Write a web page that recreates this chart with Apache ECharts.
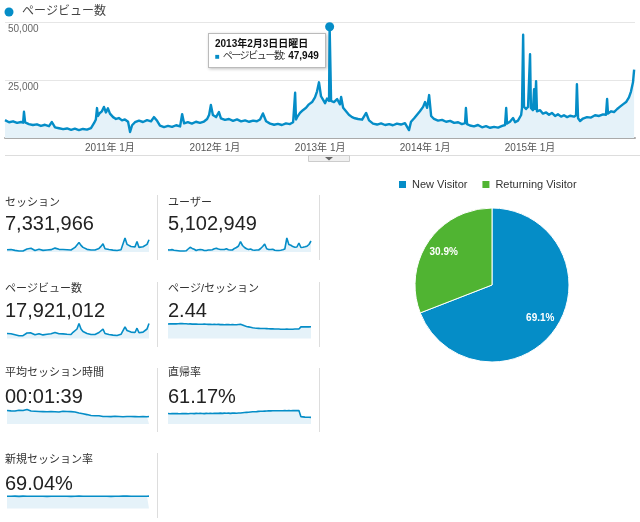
<!DOCTYPE html>
<html><head><meta charset="utf-8">
<script src="https://cdn.jsdelivr.net/npm/echarts@6/dist/echarts.min.js"></script>
<style>html,body{margin:0;padding:0;background:#fff}#c{width:640px;height:522px}</style>
</head><body><div id="c"></div><script>
// ---------- DATA ----------
const headerTitle = 'ページビュー数';
const tickLabels = ['2011年 1月', '2012年 1月', '2013年 1月', '2014年 1月', '2015年 1月'];
const axisRange = ['2010-01-01', '2016-01-01'];
const yTicks = [0, 25000, 50000];

const pvDates = [
'2010-01-01','2010-01-15','2010-01-29','2010-02-12','2010-02-26','2010-03-05','2010-03-08','2010-03-12','2010-03-25','2010-04-08',
'2010-04-22','2010-05-06','2010-05-20','2010-06-03','2010-06-13','2010-06-24','2010-07-08','2010-07-22','2010-08-05','2010-08-19',
'2010-09-01','2010-09-15','2010-09-29','2010-10-13','2010-10-27','2010-11-07','2010-11-13','2010-11-17','2010-11-20','2010-11-27',
'2010-12-04','2010-12-11','2010-12-18','2010-12-25','2011-01-01','2011-01-12','2011-01-22','2011-02-01','2011-02-12','2011-02-22',
'2011-03-05','2011-03-12','2011-03-19','2011-03-29','2011-04-12','2011-04-26','2011-05-10','2011-05-24','2011-06-03','2011-06-14',
'2011-06-24','2011-07-08','2011-07-22','2011-08-05','2011-08-19','2011-09-02','2011-09-09','2011-09-16','2011-09-29','2011-10-13',
'2011-10-27','2011-11-10','2011-11-24','2011-12-05','2011-12-12','2011-12-18','2011-12-25','2012-01-05','2012-01-15','2012-01-22',
'2012-02-05','2012-02-19','2012-03-04','2012-03-18','2012-04-01','2012-04-15','2012-04-29','2012-05-13','2012-05-26','2012-06-06',
'2012-06-16','2012-06-27','2012-07-11','2012-07-25','2012-08-07','2012-08-21','2012-09-04','2012-09-18','2012-09-29','2012-10-06',
'2012-10-09','2012-10-13','2012-10-23','2012-11-02','2012-11-13','2012-11-23','2012-12-04','2012-12-14','2012-12-21','2012-12-28',
'2013-01-04','2013-01-11','2013-01-18','2013-01-25','2013-02-01','2013-02-03','2013-02-08','2013-02-18','2013-03-01','2013-03-11',
'2013-03-15','2013-03-22','2013-04-01','2013-04-11','2013-04-22','2013-05-02','2013-05-13','2013-05-27','2013-06-10','2013-06-20',
'2013-07-04','2013-07-18','2013-08-01','2013-08-15','2013-08-29','2013-09-11','2013-09-25','2013-10-09','2013-10-23','2013-11-06',
'2013-11-13','2013-11-24','2013-12-04','2013-12-14','2013-12-25','2014-01-01','2014-01-08','2014-01-15','2014-01-22','2014-02-01',
'2014-02-15','2014-03-01','2014-03-15','2014-03-29','2014-04-12','2014-04-26','2014-05-09','2014-05-20','2014-05-23','2014-05-27',
'2014-06-06','2014-06-20','2014-07-04','2014-07-18','2014-08-01','2014-08-15','2014-08-29','2014-09-12','2014-09-26','2014-10-06',
'2014-10-10','2014-10-13','2014-10-23','2014-11-03','2014-11-10','2014-11-20','2014-12-01','2014-12-04','2014-12-08','2014-12-11',
'2014-12-18','2014-12-25','2015-01-01','2015-01-04','2015-01-11','2015-01-15','2015-01-18','2015-01-22','2015-01-25','2015-02-05',
'2015-02-15','2015-02-26','2015-03-08','2015-03-18','2015-03-29','2015-04-08','2015-04-19','2015-04-29','2015-05-10','2015-05-20',
'2015-06-03','2015-06-10','2015-06-13','2015-06-17','2015-06-24','2015-07-04','2015-07-18','2015-08-01','2015-08-15','2015-08-29',
'2015-09-12','2015-09-22','2015-09-26','2015-09-29','2015-10-10','2015-10-20','2015-10-31','2015-11-10','2015-11-20','2015-12-01',
'2015-12-11','2015-12-18','2015-12-25','2015-12-29'];
const pvValues = [
7700,6800,7200,6500,6900,6600,11300,6700,6000,5600,
5900,5200,5700,5100,6900,4600,4200,3800,4100,3500,
4000,3400,3900,3600,4300,6500,8000,12900,9500,10800,
11500,13400,11000,12800,10500,9000,8200,8600,7600,8000,
7000,2600,5500,6800,7500,6900,7700,7200,9000,7400,
5300,4700,5200,4800,5500,5000,10300,6300,6800,6200,
7000,6500,7100,8200,10000,14200,9900,9000,11200,8500,
7800,8200,7400,8000,7200,7600,7000,7500,7200,8000,
10600,7200,6200,5700,6100,5600,6300,6000,6800,19500,
8000,9000,10800,12000,13000,14500,15500,17500,20000,24000,
18000,16500,15000,17000,16000,47949,16000,15500,16800,14500,
17700,13000,11500,10000,9000,8500,8200,7900,10800,7600,
6200,5800,6300,5600,6000,5500,6200,5800,6400,3400,
7000,8500,10000,11500,13400,15500,13000,18500,9500,8200,
7500,7800,7000,7400,6500,6800,6000,6400,12900,6000,
5400,5000,5600,4600,5100,4400,4800,4500,5200,5600,
12900,6200,7000,8600,6800,7500,9900,13000,44500,13500,
12500,13400,36100,13000,12000,21000,12500,24500,11500,12000,
10500,11000,10000,10800,9500,10200,9200,9800,9000,9600,
9200,9800,23200,8500,7300,8400,9000,8800,9800,9500,
10200,10000,16800,10500,11500,11200,12500,13500,14500,15500,
17500,20000,24000,29500];
const tooltipDate = '2013-02-03';

const metricNames = ['セッション', 'ユーザー', 'ページビュー数', 'ページ/セッション', '平均セッション時間', '直帰率', '新規セッション率'];
const metricValues = ['7,331,966', '5,102,949', '17,921,012', '2.44', '00:01:39', '61.17%', '69.04%'];

// monthly sparkline categories 2010-01 .. 2015-12
const sparkMonths = [];
for (let y = 2010; y <= 2015; y++) for (let m = 1; m <= 12; m++) sparkMonths.push(y + '-' + (m < 10 ? '0' + m : m));

const sparkSessions = [
4400,4000,4800,3600,3200,2600,2000,1800,2000,2400,6000,9400,
7200,5600,3000,4600,5200,4400,3200,2800,4000,4000,4600,6400,
7600,5800,5200,5000,4800,6400,4400,3800,4000,7200,9000,12000,
18600,13000,9000,6400,5200,6000,4000,3600,3800,4000,7000,11000,
16000,6400,5200,4800,5600,3600,3000,2800,3400,4400,6000,27400,
15000,13600,10800,9600,10000,20600,9000,9600,10400,11600,15000,24000];
const sparkUsers = [
3000,2800,3300,2500,2200,1800,1400,1300,1400,1700,4200,6600,
5000,3900,2100,3200,3600,3100,2200,2000,2800,2800,3200,4500,
5300,4100,3600,3500,3400,4500,3100,2700,2800,5000,6300,8400,
14400,9100,6300,4500,3600,4200,2800,2500,2700,2800,4900,7700,
11200,4500,3600,3400,3900,2500,2100,2000,2400,3100,4200,19600,
10500,9500,7600,6700,7000,12600,6300,6700,7300,8100,10500,15400];
const sparkPageviews = [
8000,7360,7680,6720,6080,5120,4480,4160,4480,5120,8800,10560,
8960,8000,6080,7360,7680,6720,5760,5440,6720,7040,7680,9920,
9600,8000,7680,7360,7360,8960,6720,6080,6400,9920,11840,15200,
24000,15200,11200,8960,8000,8640,6400,6080,6400,6720,9600,12160,
14880,8000,7040,6400,7040,5440,5120,4800,5440,6720,8320,18560,
12800,11840,10240,9600,9600,16480,9280,9600,10240,11520,15200,24000];
const sparkPagesPerSession = [
2.86,2.88,2.90,2.88,2.88,2.92,2.94,2.96,2.92,2.90,2.86,2.88,
2.84,2.84,2.86,2.82,2.80,2.82,2.84,2.80,2.78,2.80,2.76,2.78,
2.76,2.78,2.74,2.76,2.72,2.74,2.76,2.72,2.74,2.70,2.72,2.76,
2.80,2.66,2.50,2.38,2.30,2.22,2.12,2.06,2.02,2.00,1.98,1.98,
1.96,1.94,1.92,1.90,1.90,1.88,1.86,1.86,1.84,1.84,1.84,1.86,
1.84,1.84,1.84,1.86,1.86,1.86,2.30,2.32,2.30,2.32,2.30,2.32];
const sparkAvgDuration = [
122,124,119,122,117,121,124,119,122,125,131,124,
117,121,115,119,113,117,112,115,110,113,112,115,
110,113,108,112,115,110,113,108,112,106,108,104,
99,94,92,88,85,81,77,76,74,72,74,70,
68,70,68,70,67,68,70,67,68,67,65,67,
68,67,68,65,67,68,65,67,68,67,65,68];
const sparkBounce = [
53,52,53,52.5,53.5,52.5,52,53,52.5,53.5,52,53,
53.5,52.5,54,53,54,53.5,52.5,54,53,54.5,53.5,54,
54.5,54,55,54,55,54.5,55,54,55,55.5,54.5,55.5,
56,57,58,59,60,61,62,62.5,63,64,64.5,65,
65.5,66,66.5,66.5,67,67,67.5,67,67.5,67.5,68,67.5,
68,67.5,68,68,68.5,68,37,36,35,34.5,34,33.5];
const sparkNewRate = [
69.0,69.5,68.8,69.2,70.0,69.4,68.6,69.0,69.8,70.4,69.6,69.0,
68.8,69.4,69.0,68.6,69.2,68.8,69.4,69.0,68.6,69.2,68.8,69.4,
69.0,68.8,69.2,68.6,69.0,69.4,68.8,69.2,68.6,69.0,69.2,69.6,
70.2,69.4,69.0,68.8,69.2,68.6,69.0,68.8,69.2,68.6,69.0,69.4,
69.6,69.0,68.8,69.2,68.6,69.0,68.8,69.2,69.0,69.4,69.8,70.6,
69.8,69.4,69.0,69.2,68.8,69.4,69.2,69.0,69.4,69.2,69.6,70.0];
const sparkData = [sparkSessions, sparkUsers, sparkPageviews, sparkPagesPerSession, sparkAvgDuration, sparkBounce, sparkNewRate];

const pieNames = ['New Visitor', 'Returning Visitor'];
const pieValues = [69.1, 30.9];

// ---------- LAYOUT / STYLE ----------
const FONT = '"Liberation Sans", Arial, "Noto Sans CJK JP", sans-serif';
const BLUE = '#058dc7', GREEN = '#50b432', FILL = '#e5f2f9';
const tileX = [5, 168, 5, 168, 5, 168, 5];
const tileRow = [0, 0, 1, 1, 2, 2, 3];
const rowTitleY = [203, 288.5, 373, 460];
const rowValueY = [224.5, 311, 397, 484];
const sparkGrids = [
  {left: 7, top: 238, width: 142, height: 14},
  {left: 168, top: 238, width: 143, height: 14},
  {left: 7, top: 323.5, width: 142, height: 15},
  {left: 168, top: 323.5, width: 143, height: 15},
  {left: 7, top: 409.5, width: 142, height: 14.5},
  {left: 168, top: 410.5, width: 143, height: 13.5},
  {left: 7, top: 496, width: 142, height: 12.5}
];
const separators = [[157.5, 195, 260], [319.5, 195, 260], [157.5, 282, 347], [319.5, 282, 347], [157.5, 368, 432], [319.5, 368, 432], [157.5, 453, 518]];

const chart = echarts.init(document.getElementById('c'), null, {renderer: 'canvas'});

const grids = [{left: 5, width: 630, top: 22, height: 116}];
const xAxes = [{
  type: 'time', gridIndex: 0, min: axisRange[0], max: axisRange[1],
  minInterval: 365 * 86400000, maxInterval: 366 * 86400000,
  axisLine: {show: true, lineStyle: {color: '#aaa', width: 2}},
  axisTick: {show: false}, splitLine: {show: false},
  axisLabel: {
    color: '#555', fontSize: 10, fontFamily: FONT, margin: 5,
    showMinLabel: false, showMaxLabel: false,
    formatter: function (v) {
      const d = new Date(v);
      const s = d.getFullYear() + '年 ' + (d.getMonth() + 1) + '月';
      return (d.getDate() === 1 && tickLabels.indexOf(s) >= 0) ? s : '';
    }
  }
}];
const yAxes = [{
  type: 'value', gridIndex: 0, min: yTicks[0], max: yTicks[2], interval: yTicks[1] - yTicks[0],
  axisLine: {show: false}, axisTick: {show: false},
  splitLine: {lineStyle: {color: '#e6e6e6', width: 1}},
  axisLabel: {
    inside: true, margin: 3, verticalAlign: 'top', padding: [2, 0, 0, 0],
    color: '#666', fontSize: 10, fontFamily: FONT, showMinLabel: false,
    formatter: v => v.toLocaleString('en-US')
  }
}];
const series = [{
  type: 'line', xAxisIndex: 0, yAxisIndex: 0, name: headerTitle,
  data: pvDates.map((d, i) => [d, pvValues[i]]),
  showSymbol: false, symbol: 'none', clip: false, silent: true,
  lineStyle: {color: BLUE, width: 2.4, join: 'round'}, areaStyle: {color: FILL, opacity: 1},
  tooltip: {show: false}
}];
const peakIdx = pvDates.indexOf(tooltipDate);
series.push({
  type: 'scatter', xAxisIndex: 0, yAxisIndex: 0, name: headerTitle,
  data: [[pvDates[peakIdx], pvValues[peakIdx]]],
  symbolSize: 9, itemStyle: {color: BLUE, opacity: 1}, z: 5,
  emphasis: {disabled: true, scale: false, itemStyle: {color: BLUE, opacity: 1}}
});
const scatterIndex = 1;

sparkData.forEach((arr, k) => {
  const gi = k + 1;
  grids.push(Object.assign({}, sparkGrids[k]));
  xAxes.push({type: 'category', gridIndex: gi, data: sparkMonths, boundaryGap: false, show: false});
  yAxes.push({type: 'value', gridIndex: gi, min: 0, max: 'dataMax', show: false, splitLine: {show: false}});
  series.push({
    type: 'line', xAxisIndex: gi, yAxisIndex: gi, data: arr,
    showSymbol: false, symbol: 'none', clip: false, silent: true,
    lineStyle: {color: BLUE, width: 1.6}, areaStyle: {color: FILL, opacity: 1},
    tooltip: {show: false}
  });
});

const pieData = pieNames.map((n, i) => ({name: n, value: pieValues[i]}));
series.push({
  type: 'pie', center: [492, 285], radius: 77, startAngle: 90, silent: true,
  data: pieData, color: [BLUE, GREEN],
  itemStyle: {borderColor: '#fff', borderWidth: 1},
  label: {show: false}, labelLine: {show: false}, tooltip: {show: false}
});
series.push({
  type: 'pie', center: [492, 285], radius: [34, 77], startAngle: 90, silent: true,
  percentPrecision: 1, data: pieData, legendHoverLink: false,
  itemStyle: {color: 'rgba(0,0,0,0)'},
  label: {show: true, position: 'inside', formatter: '{d}%', color: '#fff', fontWeight: 'bold', fontSize: 10, fontFamily: FONT},
  labelLine: {show: false}, tooltip: {show: false}
});

// graphics
const graphics = [
  {type: 'circle', shape: {cx: 9, cy: 12, r: 4.5}, style: {fill: BLUE}},
  {type: 'text', x: 22, y: 12, style: {text: headerTitle, fill: '#444', font: '12px ' + FONT, verticalAlign: 'middle'}},
  {type: 'line', shape: {x1: 5, y1: 155.5, x2: 640, y2: 155.5}, style: {stroke: '#ddd', lineWidth: 1}},
  {type: 'rect', shape: {x: 308.5, y: 155.5, width: 41, height: 6}, style: {fill: '#f0f0f0', stroke: '#ccc', lineWidth: 1}},
  {type: 'polygon', shape: {points: [[325, 157], [333, 157], [329, 160.5]]}, style: {fill: '#666'}}
];
metricNames.forEach((n, k) => {
  graphics.push({type: 'text', x: tileX[k], y: rowTitleY[tileRow[k]], style: {text: n, fill: '#333', font: '11px ' + FONT, verticalAlign: 'middle'}});
  graphics.push({type: 'text', x: tileX[k], y: rowValueY[tileRow[k]], style: {text: metricValues[k], fill: '#222', font: '20px ' + FONT, verticalAlign: 'middle'}});
});
separators.forEach(s => graphics.push({type: 'line', shape: {x1: s[0], y1: s[1], x2: s[0], y2: s[2]}, style: {stroke: '#ddd', lineWidth: 1}}));

const wd = ['日', '月', '火', '水', '木', '金', '土'];
function tipHtml() {
  const p = tooltipDate.split('-').map(Number);
  const d = new Date(p[0], p[1] - 1, p[2]);
  const title = p[0] + '年' + p[1] + '月' + p[2] + '日' + wd[d.getDay()] + '曜日';
  return '<div style="font-weight:bold;color:#111;line-height:12px">' + title + '</div>' +
    '<div style="line-height:12px;color:#333"><span style="color:' + BLUE + ';font-size:8px">■</span> ' +
    '<span style="letter-spacing:-1.4px">' + headerTitle + '</span>: <b style="color:#111">' +
    pvValues[peakIdx].toLocaleString('en-US') + '</b></div>';
}

chart.setOption({
  animation: false,
  backgroundColor: '#fff',
  textStyle: {fontFamily: FONT},
  grid: grids, xAxis: xAxes, yAxis: yAxes, series: series,
  legend: {
    data: pieNames, left: 397, top: 179, padding: 0, icon: 'rect', itemWidth: 9, itemHeight: 9, itemGap: 13,
    selectedMode: false, textStyle: {fontSize: 11, color: '#333', fontFamily: FONT}
  },
  tooltip: {
    trigger: 'item', triggerOn: 'none', alwaysShowContent: true, transitionDuration: 0,
    position: [208, 33], padding: [4, 6], backgroundColor: '#fff', borderColor: '#bbb', borderWidth: 1,
    textStyle: {fontSize: 10, fontFamily: FONT, color: '#333'},
    extraCssText: 'box-shadow:1px 1px 3px rgba(0,0,0,0.25);border-radius:0;',
    formatter: tipHtml
  },
  graphic: graphics
});
chart.dispatchAction({type: 'showTip', seriesIndex: scatterIndex, dataIndex: 0});
</script></body></html>
